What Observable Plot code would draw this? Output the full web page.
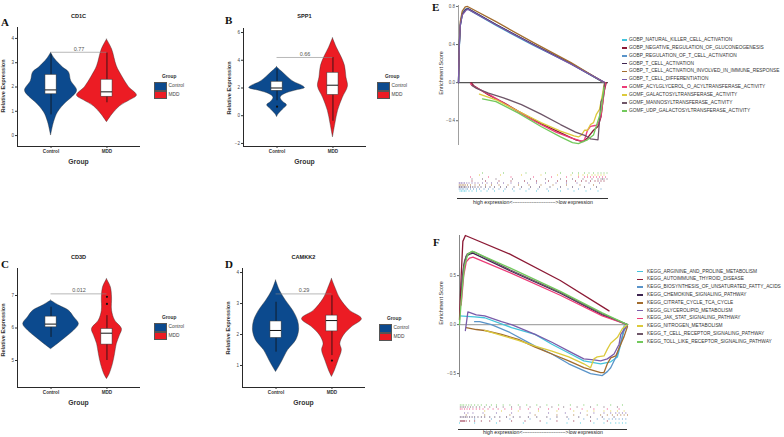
<!DOCTYPE html>
<html><head><meta charset="utf-8">
<script src="https://cdn.jsdelivr.net/npm/d3@7"></script>
<script src="https://cdn.jsdelivr.net/npm/@observablehq/plot@0.6"></script>
<style>
body{margin:0;background:#fff;}
#root{position:relative;width:784px;height:437px;overflow:hidden;font-family:"Liberation Sans",Arial,sans-serif;background:#fff;}
.abs{position:absolute;}
.t{position:absolute;white-space:nowrap;line-height:1;}
</style></head><body><div id="root"></div>
<script>
// ---------------- DATA ----------------
const groups = ["Control", "MDD"];
const groupColors = ["#0c4a8e", "#ec1c24"];

// violin outlines: [expression, relative density]
const cd1cControlViolin = [[3.4,0],[3.15,0.13],[2.8,0.4],[2.6,0.6],[2.25,0.67],[1.85,0.87],[1.6,0.73],[1.35,0.5],[0.95,0.23],[0.55,0.1],[0,0]];
const cd1cMddViolin = [[3.95,0],[3.55,0.17],[2.85,0.33],[2.45,0.5],[2.0,0.73],[1.65,1.0],[1.45,0.77],[1.2,0.43],[0.85,0.17],[0.55,0]];
const spp1ControlViolin = [[3.5,0],[3.2,0.15],[2.8,0.35],[2.45,0.55],[2.15,0.85],[2.0,0.93],[1.8,0.6],[1.55,0.25],[1.3,0.12],[1.0,0.2],[0.75,0.33],[0.45,0.2],[0.1,0.05],[-0.1,0]];
const spp1MddViolin = [[5.58,0],[4.9,0.13],[4.3,0.27],[3.6,0.4],[2.75,0.45],[2.1,0.5],[1.3,0.33],[0.35,0.17],[-0.6,0.08],[-1.56,0]];
const cd3dControlViolin = [[6.84,0],[6.69,0.27],[6.53,0.6],[6.33,0.77],[6.12,0.93],[5.92,0.77],[5.71,0.5],[5.51,0.23],[5.35,0]];
const cd3dMddViolin = [[7.5,0],[7.25,0.13],[6.94,0.17],[6.53,0.17],[6.23,0.27],[5.97,0.5],[5.76,0.43],[5.51,0.33],[5.2,0.27],[4.89,0.2],[4.58,0.09],[4.43,0]];
const camkk2ControlViolin = [[3.74,0],[3.41,0.13],[3.09,0.33],[2.77,0.57],[2.45,0.73],[2.13,0.77],[1.81,0.67],[1.49,0.4],[1.16,0.22],[0.95,0.1],[0.79,0]];
const camkk2MddViolin = [[3.79,0],[3.47,0.13],[3.15,0.28],[2.77,0.6],[2.5,1.0],[2.24,0.67],[1.97,0.4],[1.7,0.28],[1.49,0.33],[1.16,0.22],[0.84,0.1],[0.63,0]];

// boxes: [q1, median, q3, whiskerLow, whiskerHigh] for Control, MDD
const cd1cBoxes = [[1.7,1.88,2.5,0.85,3.35],[1.6,1.8,2.3,1.35,3.4]];
const spp1Boxes = [[1.8,2.0,2.45,1.08,3.35],[1.5,2.2,3.1,-0.4,4.2]];
const cd3dBoxes = [[6.02,6.12,6.35,5.71,6.64],[5.49,5.84,5.97,5.0,6.38]];
const camkk2Boxes = [[1.89,2.13,2.42,1.43,3.04],[2.1,2.45,2.61,1.32,3.25]];

const cd1cOutliers = [[],[]];
const spp1Outliers = [[0.65],[]];
const cd3dOutliers = [[],[6.96,6.74]];
const camkk2Outliers = [[],[1.16]];

const pValues = ["0.77","0.66","0.012","0.29"];
const bracketLevels = [3.43, 4.2, 7.05, 3.31];
const cd1cTicks = [0,1,2,3,4];
const spp1Ticks = [-2,0,2,4,6];
const cd3dTicks = [5,6,7];
const camkk2Ticks = [1,2,3,4];

// GSEA – GO terms
const goTerms = ["GOBP_NATURAL_KILLER_CELL_ACTIVATION","GOBP_NEGATIVE_REGULATION_OF_GLUCONEOGENESIS","GOBP_REGULATION_OF_T_CELL_ACTIVATION","GOBP_T_CELL_ACTIVATION","GOBP_T_CELL_ACTIVATION_INVOLVED_IN_IMMUNE_RESPONSE","GOBP_T_CELL_DIFFERENTIATION","GOMF_ACYLGLYCEROL_O_ACYLTRANSFERASE_ACTIVITY","GOMF_GALACTOSYLTRANSFERASE_ACTIVITY","GOMF_MANNOSYLTRANSFERASE_ACTIVITY","GOMF_UDP_GALACTOSYLTRANSFERASE_ACTIVITY"];
const keggTerms = ["KEGG_ARGININE_AND_PROLINE_METABOLISM","KEGG_AUTOIMMUNE_THYROID_DISEASE","KEGG_BIOSYNTHESIS_OF_UNSATURATED_FATTY_ACIDS","KEGG_CHEMOKINE_SIGNALING_PATHWAY","KEGG_CITRATE_CYCLE_TCA_CYCLE","KEGG_GLYCEROLIPID_METABOLISM","KEGG_JAK_STAT_SIGNALING_PATHWAY","KEGG_NITROGEN_METABOLISM","KEGG_T_CELL_RECEPTOR_SIGNALING_PATHWAY","KEGG_TOLL_LIKE_RECEPTOR_SIGNALING_PATHWAY"];
const termColors = ["#43c4dc","#8c1a35","#5a94c9","#3d2550","#a26c2e","#7a5ca9","#ec3c78","#dcca3c","#6e5668","#72c95c"];

// running enrichment score: [rank %, ES]
const esNK = [[0,0],[0.5,0.35],[1.2,0.6],[2.5,0.72],[4,0.76],[6,0.775],[25,0.6],[50,0.39],[75,0.2],[97,0]];
const esGluco = [[8.5,0],[10,-0.03],[20,-0.13],[30,-0.21],[40,-0.3],[55,-0.43],[70,-0.54],[78,-0.6],[83,-0.62],[86,-0.58],[90,-0.5],[93,-0.46],[95,-0.36],[97,-0.1],[98.5,0]];
const esRegT = [[0,0],[0.5,0.4],[1.2,0.62],[2.5,0.73],[4.5,0.77],[6,0.78],[25,0.61],[50,0.4],[75,0.2],[97,0]];
const esTAct = [[0,0],[0.5,0.38],[1.2,0.6],[2.5,0.72],[5,0.77],[6.5,0.775],[25,0.61],[50,0.4],[75,0.2],[97.5,0]];
const esTActImm = [[0,0],[0.5,0.4],[1.2,0.64],[2.5,0.75],[4.5,0.795],[6,0.8],[25,0.64],[50,0.42],[75,0.21],[97,0]];
const esTDiff = [[0,0],[0.5,0.37],[1.2,0.6],[2.5,0.71],[5,0.76],[6.5,0.77],[25,0.605],[50,0.395],[75,0.195],[97.5,0]];
const esAcyl = [[8,-0.01],[9,-0.03],[20,-0.12],[35,-0.26],[50,-0.4],[65,-0.52],[75,-0.58],[82,-0.615],[84,-0.6],[86,-0.5],[88,-0.46],[91,-0.45],[93,-0.44],[95,-0.35],[97.5,-0.05],[98,0]];
const esGalacto = [[14,-0.12],[25,-0.18],[40,-0.3],[55,-0.42],[68,-0.51],[77,-0.56],[80,-0.57],[82,-0.55],[84,-0.5],[86,-0.5],[88,-0.44],[90,-0.42],[92,-0.33],[94,-0.28],[96,-0.12],[97,-0.02]];
const esMannosyl = [[9,-0.03],[12,-0.06],[20,-0.11],[30,-0.16],[42,-0.23],[55,-0.33],[68,-0.44],[78,-0.52],[85,-0.56],[88,-0.59],[93,-0.6],[95,-0.2],[96.5,-0.15],[97,-0.05],[97.5,0]];
const esUdp = [[16,-0.17],[25,-0.2],[40,-0.32],[55,-0.46],[68,-0.57],[76,-0.63],[80,-0.64],[83,-0.62],[86,-0.6],[90,-0.55],[92,-0.45],[95,-0.3],[97,-0.05]];

const esArginine = [[0,0.09],[9,0.08],[15,0.07],[31,-0.03],[45,-0.1],[55,-0.2],[65,-0.29],[74,-0.37],[84,-0.4],[90,-0.38],[94,-0.33],[96,-0.2],[98,-0.01]];
const esAutoimmune = [[0,0.05],[1,0.5],[2,0.85],[3.5,0.91],[30,0.72],[60,0.45],[89,0.14]];
const esBiosynth = [[9,0.03],[12,0.03],[19,0],[30,-0.08],[45,-0.22],[55,-0.3],[65,-0.4],[78,-0.5],[85,-0.52],[88,-0.48],[90,-0.44],[94,-0.3],[98,-0.06],[100,0]];
const esChemokine = [[1,0.3],[2.5,0.6],[4,0.7],[6,0.72],[8,0.73],[30,0.55],[60,0.32],[85,0.1],[100,0]];
const esCitrate = [[4,-0.03],[10,-0.05],[15,-0.06],[25,-0.1],[35,-0.15],[45,-0.23],[55,-0.3],[65,-0.37],[74,-0.44],[84,-0.49],[86,-0.49],[88,-0.4],[90,-0.34],[93,-0.32],[96,-0.2],[98,-0.12],[100,-0.02]];
const esGlycero = [[3.5,-0.06],[5,0.13],[10,0.1],[15,0.09],[25,0.03],[31,0],[45,-0.1],[55,-0.18],[65,-0.27],[74,-0.35],[80,-0.36],[84,-0.37],[88,-0.35],[92,-0.3],[95,-0.2],[96,-0.1],[100,0]];
const esJak = [[1,0.2],[2.5,0.5],[4,0.64],[6,0.68],[8,0.69],[30,0.53],[60,0.3],[85,0.09],[100,0]];
const esNitrogen = [[15,-0.06],[25,-0.11],[35,-0.16],[45,-0.22],[55,-0.27],[65,-0.33],[74,-0.4],[78,-0.44],[80,-0.35],[82,-0.33],[86,-0.32],[88,-0.25],[90,-0.19],[94,-0.13],[97,-0.04],[100,0]];
const esTcr = [[1,0.4],[3,0.65],[4.5,0.72],[7,0.74],[9,0.74],[30,0.56],[60,0.33],[85,0.11],[100,0]];
const esToll = [[0,0],[1.5,0.35],[3,0.6],[5,0.72],[7.5,0.75],[30,0.58],[60,0.34],[85,0.12],[100,0]];

// gene-set hit positions (rank %)
const hitNK = [1,2,3,4,5,7,9,12,15,19,24,30,37,45,52,60,68,77,85,93];
const hitGluco = [9,18,27,35,44,52,60,66,72,78,82,85,88,91,93,95,97];
const hitRegT = [0.5,1.5,2.5,3.5,5,6,8,10,12,14,17,20,23,27,31,36,41,47,53,59,66,73,80,88,95];
const hitTAct = [0.5,1,2,3,4,5,6.5,8,9.5,11,13,15,18,21,24,28,32,37,42,48,54,61,68,76,84,92];
const hitTActImm = [0.5,1.5,2.5,3.5,4.5,6,8,11,14,18,22,27,33,40,47,55,63,72,81,90];
const hitTDiff = [0.5,1,2,3,4,5.5,7,9,11,13,16,19,22,26,30,35,40,46,52,58,65,72,79,87,94];
const hitAcyl = [8,20,35,50,62,72,80,84,86,88,90,92,94,96,98];
const hitGalacto = [14,28,42,55,66,75,80,83,86,89,91,93,95,97];
const hitMannosyl = [9,16,25,36,48,58,68,76,83,89,93,95,96,97,99];
const hitUdp = [16,30,45,58,68,76,80,84,87,90,93,95,97,99];

const hitArginine = [0,9,22,38,52,64,72,80,86,90,93,95,97,99];
const hitAutoimmune = [0.5,1,1.5,2,2.5,3,4,6,9,13,18,24,31,39,48,58,68,78,88];
const hitBiosynth = [9,19,30,42,54,65,74,82,86,89,91,93,95,97,99];
const hitChemokine = [0.5,1.5,2.5,3.5,4.5,6,7.5,9,11,13,15,18,21,24,28,32,36,41,46,52,58,64,71,78,85,92];
const hitCitrate = [4,15,30,45,58,68,76,84,88,91,94,96,98,100];
const hitGlycero = [3,5,8,14,22,31,42,53,63,72,80,86,90,93,95,97,99];
const hitJak = [0.5,1.5,3,4.5,6,8,10,12,14,17,20,23,27,31,36,41,47,53,59,66,73,80,88,95];
const hitNitrogen = [15,25,35,47,58,68,76,80,86,90,94,98];
const hitTcr = [0.5,1.5,2.5,3.5,5,6.5,8,10,12,15,18,22,26,31,36,42,48,55,62,70,78,86,94];
const hitToll = [0.5,1.5,2.5,4,5.5,7,9,11,13,16,19,22,26,30,35,40,46,52,59,66,74,82,90,97];

const goCurves = [esNK,esGluco,esRegT,esTAct,esTActImm,esTDiff,esAcyl,esGalacto,esMannosyl,esUdp];
const keggCurves = [esArginine,esAutoimmune,esBiosynth,esChemokine,esCitrate,esGlycero,esJak,esNitrogen,esTcr,esToll];
const goHits = [hitNK,hitGluco,hitRegT,hitTAct,hitTActImm,hitTDiff,hitAcyl,hitGalacto,hitMannosyl,hitUdp];
const keggHits = [hitArginine,hitAutoimmune,hitBiosynth,hitChemokine,hitCitrate,hitGlycero,hitJak,hitNitrogen,hitTcr,hitToll];
const goRugOrder = [9,7,6,8,1,5,4,3,2,0];
const keggRugOrder = [9,8,6,7,5,4,3,2,1,0];
const rankCaption = "high expression<------------------------->low expression";

// ---------------- LAYOUT HELPERS ----------------
const root = document.getElementById("root");
const FONT = "'Liberation Sans', Arial, sans-serif";
function put(node, left, top){
  const d=document.createElement("div"); d.className="abs";
  d.style.left=left+"px"; d.style.top=top+"px"; d.appendChild(node); root.appendChild(d);
}
function txt(s,x,y,o={}){
  const d=document.createElement("div"); d.className="t"; d.textContent=s;
  d.style.left=x+"px"; d.style.top=y+"px";
  d.style.fontSize=(o.size||6)+"px"; d.style.fontWeight=o.weight||"normal";
  d.style.color=o.color||"#222"; d.style.fontFamily=o.family||FONT;
  if(o.spacing) d.style.letterSpacing=o.spacing+"px";
  const tx = o.anchor==="start"?"0":(o.anchor==="end"?"-100%":"-50%");
  d.style.transform=`translate(${tx},-50%)`+(o.rotate?` rotate(${o.rotate}deg)`:"");
  root.appendChild(d); return d;
}
function box(x,y,w,h,fill,stroke){
  const d=document.createElement("div"); d.className="abs";
  Object.assign(d.style,{left:x+"px",top:y+"px",width:w+"px",height:h+"px",background:fill,boxSizing:"border-box",border:stroke?`0.6px solid ${stroke}`:"none"});
  root.appendChild(d);
}
const svgStyle = {maxWidth:"none", background:"transparent", overflow:"visible", fontFamily:FONT, color:"#333"};

// ---------------- VIOLIN PANELS ----------------
const VW = 30/56, BW = 0.1;
function violinPanel(p){
  const rows=[];
  p.violins.forEach((prof,i)=>prof.forEach(([v,d])=>rows.push({g:groups[i],v,x1:i+1-d*VW,x2:i+1+d*VW})));
  const boxes=p.boxes.map(([q1,med,q3,lo,hi],i)=>({g:groups[i],x:i+1,q1,med,q3,lo,hi}));
  const out=[]; p.outliers.forEach((arr,i)=>arr.forEach(v=>out.push({x:i+1,v})));
  const svg=Plot.plot({
    width:150,height:p.height,marginLeft:17,marginRight:10,marginTop:p.mt,marginBottom:12,
    style:svgStyle,
    x:{domain:[0.4,2.6],axis:null},
    y:{domain:p.yDomain,axis:null},
    color:{domain:groups,range:groupColors},
    marks:[
      Plot.areaX(rows,{y:"v",x1:"x1",x2:"x2",fill:"g",z:"g",stroke:"#2a2a2a",strokeWidth:0.4,curve:"catmull-rom"}),
      Plot.ruleX(boxes,{x:"x",y1:"lo",y2:"hi",stroke:"#111",strokeWidth:0.8}),
      Plot.rect(boxes,{x1:d=>d.x-BW,x2:d=>d.x+BW,y1:"q1",y2:"q3",fill:"white",stroke:"#333",strokeWidth:0.5}),
      Plot.ruleY(boxes,{y:"med",x1:d=>d.x-BW,x2:d=>d.x+BW,stroke:"#111",strokeWidth:1}),
      Plot.dot(out,{x:"x",y:"v",r:1.1,fill:"#111",stroke:null}),
      Plot.ruleY([p.bracket],{x1:1,x2:2,stroke:"#888",strokeWidth:0.6}),
      Plot.text([p.pval],{x:1.5,y:()=>p.bracket,text:d=>d,dy:-3.5,fontSize:5.5,fill:"#555"}),
      Plot.ruleX([0.4],{stroke:"#111",strokeWidth:0.9}),
      Plot.ruleY([p.yDomain[0]],{stroke:"#111",strokeWidth:0.9}),
      Plot.axisY({ticks:p.ticks,tickFormat:d3.format("d"),tickSize:2,tickPadding:1.5,fontSize:4.5,label:null,stroke:"#333",fill:"#444"}),
      Plot.axisX({ticks:[1,2],tickFormat:i=>groups[i-1],tickSize:2,tickPadding:1.5,fontSize:4.6,fontWeight:"bold",label:null,stroke:"#333",fill:"#333"})
    ]
  });
  put(svg,p.left,p.top);
  txt(p.letter,p.lx,p.ly,{size:11,weight:"bold",family:"'Liberation Serif', 'Times New Roman', serif",color:"#111",anchor:"start"});
  txt(p.title,p.left+17+61.5,p.ty,{size:5.6,weight:"bold",color:"#222"});
  txt("Group",p.left+17+61.5,p.gy,{size:6.8,weight:"bold",color:"#333"});
  txt("Relative Expression",p.left+4,p.ry,{size:5.6,weight:"bold",color:"#333",rotate:-90});
  const L=p.leg;
  txt("Group",L.x+8,L.y,{size:4.8,weight:"bold",color:"#333",anchor:"start"});
  box(L.x,L.y+5,13,8.5,groupColors[0],"#555");
  box(L.x,L.y+13.5,13,8.5,groupColors[1],"#555");
  txt("Control",L.x+14.5,L.y+9.2,{size:4.8,color:"#444",anchor:"start"});
  txt("MDD",L.x+14.5,L.y+17.7,{size:4.8,color:"#444",anchor:"start"});
}

violinPanel({left:0,top:0,height:158,mt:27,yDomain:[-0.45,4.45],ticks:cd1cTicks,violins:[cd1cControlViolin,cd1cMddViolin],boxes:cd1cBoxes,outliers:cd1cOutliers,bracket:bracketLevels[0],pval:pValues[0],
  letter:"A",lx:1,ly:22,title:"CD1C",ty:17,gy:162,ry:86,leg:{x:154,y:77}});
violinPanel({left:226,top:0,height:158,mt:28,yDomain:[-2.22,6.29],ticks:spp1Ticks,violins:[spp1ControlViolin,spp1MddViolin],boxes:spp1Boxes,outliers:spp1Outliers,bracket:bracketLevels[1],pval:pValues[1],
  letter:"B",lx:225,ly:20,title:"SPP1",ty:17,gy:162,ry:88,leg:{x:377,y:77}});
violinPanel({left:0,top:241,height:158,mt:27,yDomain:[4.17,7.83],ticks:cd3dTicks,violins:[cd3dControlViolin,cd3dMddViolin],boxes:cd3dBoxes,outliers:cd3dOutliers,bracket:bracketLevels[2],pval:pValues[2],
  letter:"C",lx:1,ly:264,title:"CD3D",ty:258,gy:403,ry:330,leg:{x:154,y:318}});
violinPanel({left:225,top:241,height:158,mt:27,yDomain:[0.29,4.13],ticks:camkk2Ticks,violins:[camkk2ControlViolin,camkk2MddViolin],boxes:camkk2Boxes,outliers:camkk2Outliers,bracket:bracketLevels[3],pval:pValues[3],
  letter:"D",lx:225,ly:264,title:"CAMKK2",ty:258,gy:403,ry:328,leg:{x:379,y:319}});

// ---------------- GSEA PANELS ----------------
function gseaPanel(p){
  const rows=[];
  p.curves.forEach((c,i)=>c.forEach(([x,y])=>rows.push({term:p.terms[i],x,y})));
  const svg=Plot.plot({
    width:p.w,height:p.h,marginLeft:p.ml,marginRight:p.mr,marginTop:p.mt,marginBottom:p.mb,
    style:svgStyle,
    x:{domain:[0,100],axis:null},
    y:{domain:p.yDomain,axis:null},
    color:{domain:p.terms,range:termColors},
    marks:[
      Plot.ruleX([0],{stroke:p.axisColor,strokeWidth:1}),
      Plot.axisY({ticks:p.ticks,tickFormat:d3.format(".1f"),tickSize:2,tickPadding:1.5,fontSize:4.5,label:null,stroke:"#666",fill:"#555"}),
      Plot.ruleY([0],{x1:0,x2:100,stroke:p.zeroColor,strokeWidth:1.1}),
      Plot.line(rows,{x:"x",y:"y",z:"term",stroke:"term",strokeWidth:1.3})
    ]
  });
  put(svg,p.left,p.top);
  const hits=[];
  p.hits.forEach((h,i)=>h.forEach(x=>hits.push({term:p.terms[i],x})));
  const rug=Plot.plot({
    width:p.rug.w,height:p.rug.h,margin:0,style:svgStyle,
    x:{domain:[0,100],axis:null},
    y:{domain:p.rugOrder.map(i=>p.terms[i]),axis:null,padding:0},
    color:{domain:p.terms,range:termColors},
    marks:[Plot.tickX(hits,{x:"x",y:"term",stroke:"term",strokeWidth:0.8,strokeOpacity:0.6})]
  });
  put(rug,p.rug.x,p.rug.y);
  box(p.rug.x-1,p.rug.lineY,p.rug.w+1,0.8,"#333");
  txt(rankCaption,p.rug.x+p.rug.w/2,p.rug.textY,{size:5.2,color:"#222"});
  txt(p.letter,p.lx,p.ly,{size:11,weight:"bold",family:"'Liberation Serif', 'Times New Roman', serif",color:"#111",anchor:"start"});
  txt("Enrichment Score",p.esx,p.esy,{size:5.5,color:"#333",rotate:-90});
  p.terms.forEach((t,i)=>{
    const y=p.leg.y+i*p.leg.step;
    box(p.leg.x,y-0.8,p.leg.sw,1.6,termColors[i]);
    txt(t,p.leg.tx,y,{size:4.8,color:"#333",anchor:"start"});
  });
}

gseaPanel({left:430,top:0,w:185,h:150,ml:28,mr:7,mt:5,mb:5,yDomain:[-0.66,0.81],ticks:[-0.4,0,0.4,0.8],
  terms:goTerms,curves:goCurves,hits:goHits,rugOrder:goRugOrder,axisColor:"#a0a0a0",zeroColor:"#555",
  rug:{x:458,y:168,w:150,h:28,lineY:198,textY:203},letter:"E",lx:432,ly:7,esx:442,esy:73,
  leg:{x:622,y:40,step:7.86,sw:5,tx:629}});
gseaPanel({left:430,top:225,w:205,h:160,ml:29,mr:8,mt:10,mb:8,yDomain:[-0.54,0.91],ticks:[-0.5,0,0.5],
  terms:keggTerms,curves:keggCurves,hits:keggHits,rugOrder:keggRugOrder,axisColor:"#888",zeroColor:"#a8a8a8",
  rug:{x:459,y:400,w:168,h:27,lineY:429,textY:433},letter:"F",lx:433,ly:242,esx:442,esy:303,
  leg:{x:637,y:271.7,step:7.78,sw:6,tx:647}});
</script></body></html>
